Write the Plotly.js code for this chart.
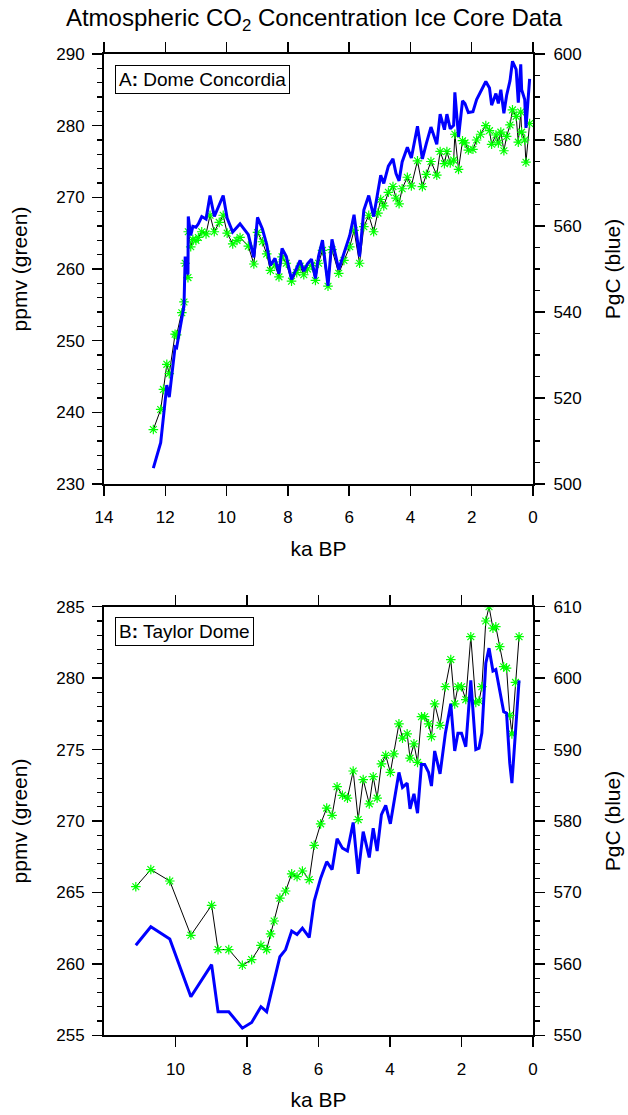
<!DOCTYPE html>
<html>
<head>
<meta charset="utf-8">
<script src="https://cdn.plot.ly/plotly-3.0.1.min.js"></script>
<style>html,body{margin:0;padding:0;background:#fff;}#chart{width:628px;height:1115px;}</style>
</head>
<body>
<div id="chart"></div>
<script>
// Panel A: Dome Concordia
const kaA = [12.39,12.15,12.06,11.95,11.87,11.68,11.63,11.46,11.39,11.35,11.26,11.25,11.17,11.10,11.00,10.92,10.81,10.67,10.54,10.40,10.24,10.11,9.98,9.80,9.66,9.56,9.29,9.11,8.99,8.83,8.69,8.57,8.42,8.29,8.19,8.05,7.88,7.71,7.60,7.48,7.36,7.23,7.10,7.00,6.87,6.69,6.56,6.34,6.17,5.98,5.84,5.66,5.52,5.36,5.20,5.06,4.97,4.87,4.72,4.57,4.47,4.37,4.27,4.10,3.97,3.77,3.61,3.48,3.33,3.14,3.03,2.89,2.81,2.70,2.59,2.55,2.43,2.30,2.22,2.11,1.96,1.84,1.71,1.54,1.42,1.35,1.21,1.13,1.05,0.95,0.86,0.75,0.67,0.55,0.48,0.40,0.37,0.27,0.23,0.11];
const ppmvA = [237.6,240.4,243.2,246.7,245.4,250.9,250.8,253.9,255.4,260.8,258.8,265.2,263.1,264.1,264.0,264.4,265.2,264.9,267.5,265.2,266.5,267.5,265.0,263.5,264.0,264.4,263.2,260.7,265.1,263.8,262.1,259.8,260.6,258.9,261.7,260.8,258.3,259.5,260.4,259.2,260.0,260.5,258.4,260.8,262.6,257.6,262.7,259.4,261.2,263.1,265.4,260.8,265.9,267.5,265.2,267.8,269.7,268.8,270.7,271.5,269.9,269.1,271.2,272.8,271.6,275.1,271.5,273.2,275.0,273.1,276.4,274.7,276.4,274.8,275.2,278.8,273.9,277.9,277.6,276.6,276.7,278.0,278.8,280.0,279.3,277.4,278.7,277.6,279.1,276.5,278.5,280.1,282.2,281.3,277.7,281.9,279.1,278.0,274.9,280.3];
const pgcA = [503.7,509.6,515.6,523.0,520.2,531.9,531.7,538.3,541.4,552.9,548.7,562.2,557.8,559.9,559.7,560.5,562.2,561.6,567.1,562.2,565.0,567.1,561.8,558.6,559.7,560.5,558.0,552.7,562.0,559.3,555.7,550.8,552.5,548.9,554.8,552.9,547.6,550.1,552.0,549.5,551.2,552.3,547.8,552.9,556.7,546.1,556.9,549.9,553.7,557.8,562.6,552.9,563.7,567.1,562.2,567.7,571.8,569.9,573.9,575.6,572.2,570.5,574.9,578.3,575.8,583.2,575.6,579.2,583.0,579.0,586.0,582.4,586.0,582.6,583.4,591.1,580.7,589.1,588.5,586.4,586.6,589.4,591.1,593.6,592.1,588.1,590.8,588.5,591.7,586.2,590.4,593.8,598.3,596.4,588.7,597.6,591.7,589.4,582.8,594.2];

// Panel B: Taylor Dome
const kaB = [11.11,10.69,10.16,9.57,8.99,8.81,8.51,8.13,7.87,7.61,7.45,7.34,7.24,7.08,6.92,6.75,6.60,6.45,6.26,6.12,5.94,5.77,5.62,5.48,5.33,5.19,5.03,4.89,4.75,4.58,4.47,4.36,4.24,4.12,3.99,3.89,3.75,3.65,3.52,3.44,3.33,3.23,3.12,3.03,2.92,2.84,2.75,2.60,2.45,2.30,2.19,2.10,2.00,1.88,1.74,1.60,1.51,1.43,1.32,1.23,1.12,1.04,0.93,0.82,0.74,0.65,0.59,0.49,0.39];
const ppmvB = [265.4,266.6,265.8,262.0,264.1,261.0,261.0,259.9,260.3,261.3,261.0,262.1,263.0,264.6,265.1,266.3,266.1,266.5,265.9,268.3,269.8,270.9,270.4,272.4,271.8,271.6,273.5,270.1,272.9,271.2,273.1,271.6,274.0,274.6,273.4,274.7,276.8,275.8,276.1,274.4,275.4,274.1,277.3,277.3,276.8,275.9,278.2,276.7,279.4,281.3,278.2,279.4,279.4,278.5,282.9,278.3,278.4,279.4,284.0,285.0,283.5,283.6,282.2,280.8,280.7,277.4,276.1,279.7,282.9];
const pgcB = [562.6,565.2,563.5,555.4,559.9,553.3,553.3,551.0,551.8,554.0,553.3,555.7,557.6,561.0,562.0,564.6,564.1,565.0,563.7,568.8,572.0,574.3,573.2,577.5,576.2,575.8,579.8,572.6,578.5,574.9,579.0,575.8,580.9,582.2,579.6,582.4,586.8,584.7,585.3,581.7,583.8,581.1,587.9,587.9,586.8,584.9,589.8,586.6,592.3,596.4,589.8,592.3,592.3,590.4,599.7,590.0,590.2,592.3,602.1,604.2,601.0,601.2,598.3,595.3,595.1,588.1,585.3,593.0,599.7];

const ticksA = [0,2,4,6,8,10,12,14];
const ticksB = [0,2,4,6,8,10];

const FONT = 'Liberation Sans, Arial, Helvetica, sans-serif';
const green = '#00ff00', blue = '#0000ff';

function blueTrace(x, y, xa, ya) {
  return {x: x, y: y, xaxis: xa, yaxis: ya, type: 'scatter', mode: 'lines',
    line: {color: blue, width: 3}, hoverinfo: 'skip', showlegend: false};
}
function greenTrace(x, y, xa, ya) {
  return {x: x, y: y, xaxis: xa, yaxis: ya, type: 'scatter', mode: 'lines+markers',
    line: {color: '#000000', width: 1},
    marker: {symbol: 'asterisk-open', size: 8, color: green, line: {color: green, width: 1.2}},
    hoverinfo: 'skip', showlegend: false};
}

const traces = [
  blueTrace(kaA, pgcA, 'x', 'y2'),
  greenTrace(kaA, ppmvA, 'x', 'y'),
  blueTrace(kaB, pgcB, 'x2', 'y4'),
  greenTrace(kaB, ppmvB, 'x2', 'y3')
];

const xd = [104/628, 533/628];
const domA = [1 - 484/1115, 1 - 54/1115];
const domB = [1 - 1035.3/1115, 1 - 606.7/1115];

const tickFont = {family: FONT, size: 17, color: '#000'};
const titleFont = {family: FONT, size: 21, color: '#000'};

function xAxis(anchor, range, tv) {
  return {domain: xd, anchor: anchor, range: range, tickvals: tv, ticks: 'outside', ticklen: 10,
    tickwidth: 1.5, tickcolor: '#000', showline: true, linewidth: 2, linecolor: '#000', mirror: 'ticks',
    showgrid: false, zeroline: false, tickfont: tickFont, ticklabelstandoff: 7,
    title: {text: 'ka BP', font: titleFont, standoff: 15}};
}
function yLeft(anchor, dom, range, dt, mdt) {
  return {domain: dom, anchor: anchor, range: range, dtick: dt, ticks: 'outside', ticklen: 10, tickwidth: 1.5,
    tickcolor: '#000', minor: {dtick: mdt, ticks: 'outside', ticklen: 5, tickwidth: 1.2, tickcolor: '#000', showgrid: false},
    showline: true, linewidth: 2, linecolor: '#000', showgrid: false, zeroline: false, tickfont: tickFont,
    ticklabelstandoff: 4,
    title: {text: 'ppmv (green)', font: titleFont, standoff: 23}};
}
function yRight(overlay, anchor, range, dt, mdt) {
  return {overlaying: overlay, anchor: anchor, side: 'right', range: range, dtick: dt, ticks: 'outside', ticklen: 10,
    tickwidth: 1.5, tickcolor: '#000', minor: {dtick: mdt, ticks: 'outside', ticklen: 5, tickwidth: 1.2, tickcolor: '#000', showgrid: false},
    showline: true, linewidth: 2, linecolor: '#000', showgrid: false, zeroline: false, tickfont: tickFont,
    ticklabelstandoff: 5,
    title: {text: 'PgC (blue)', font: titleFont, standoff: 25}};
}

const layout = {
  width: 628, height: 1115,
  margin: {l: 0, r: 0, t: 0, b: 0, pad: 0},
  paper_bgcolor: '#fff', plot_bgcolor: '#fff',
  font: {family: FONT, color: '#000'},
  title: {text: 'Atmospheric CO<sub>2</sub> Concentration Ice Core Data', font: {family: FONT, size: 24, color: '#000'},
    x: 0.5, xanchor: 'center', y: 1 - 18/1115, yanchor: 'middle', xref: 'paper', yref: 'paper'},
  xaxis: xAxis('y', [14, 0], ticksA),
  yaxis: yLeft('x', domA, [230, 290], 10, 2),
  yaxis2: yRight('y', 'x', [500, 600], 20, 5),
  xaxis2: xAxis('y3', [12, 0], ticksB),
  yaxis3: yLeft('x2', domB, [255, 285], 5, 1),
  yaxis4: yRight('y3', 'x2', [550, 610], 10, 2),
  annotations: [
    {text: 'A<b>:</b> Dome Concordia', xref: 'paper', yref: 'paper', x: 115/628, y: 1 - 65/1115,
     xanchor: 'left', yanchor: 'top', showarrow: false, font: {family: FONT, size: 19, color: '#000'},
     bordercolor: '#000', borderwidth: 1, borderpad: 3, bgcolor: '#fff'},
    {text: 'B<b>:</b> Taylor Dome', xref: 'paper', yref: 'paper', x: 115/628, y: 1 - 617/1115,
     xanchor: 'left', yanchor: 'top', showarrow: false, font: {family: FONT, size: 19, color: '#000'},
     bordercolor: '#000', borderwidth: 1, borderpad: 3, bgcolor: '#fff'}
  ]
};

Plotly.newPlot('chart', traces, layout, {displayModeBar: false, staticPlot: true});
</script>
</body>
</html>
